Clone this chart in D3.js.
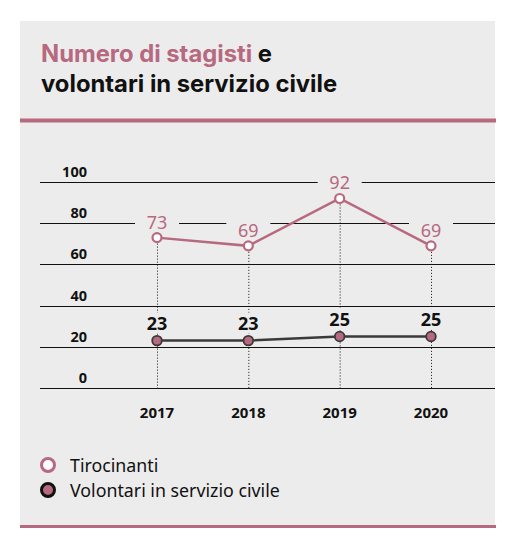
<!DOCTYPE html>
<html>
<head>
<meta charset="utf-8">
<script src="https://cdn.jsdelivr.net/npm/d3@7"></script>
<style>
  html, body { margin: 0; padding: 0; background: #fff; }
</style>
</head>
<body>
<div id="chart"></div>
<script>
// Data
const years = ["2017", "2018", "2019", "2020"];
const tirocinanti = [73, 69, 92, 69];
const volontari = [23, 23, 25, 25];
const yTicks = [0, 20, 40, 60, 80, 100];
const legendLabels = ["Tirocinanti", "Volontari in servizio civile"];

const width = 517;
const height = 549;
const pink = "#b7697f";
const panel = "#ececec";
const dark = "#3a3a3a";

const svg = d3.select("#chart").append("svg")
  .attr("width", width)
  .attr("height", height);

// Background panel
svg.append("rect")
  .attr("x", 20).attr("y", 21)
  .attr("width", 475).attr("height", 505)
  .attr("fill", panel);

// Title
const title = svg.append("text")
  .attr("x", 41)
  .style("font-family", "Inter, Roboto, sans-serif")
  .style("font-weight", 700)
  .style("font-size", "23.8px");
const line1 = title.append("tspan").attr("x", 41).attr("y", 62);
line1.append("tspan").attr("fill", pink).text("Numero di stagisti");
line1.append("tspan").attr("fill", "#111").text(" e");
title.append("tspan").attr("x", 41).attr("y", 92).attr("fill", "#111")
  .text("volontari in servizio civile");

// Rules
svg.append("rect").attr("x", 20).attr("y", 118.5).attr("width", 476).attr("height", 4).attr("fill", pink);
svg.append("rect").attr("x", 20).attr("y", 525).attr("width", 476).attr("height", 3).attr("fill", pink);

// Scales
const x = d3.scalePoint().domain(years).range([157, 431]);
const y = d3.scaleLinear().domain([0, 100]).range([388, 182]);

// Gridlines and y labels
const grid = svg.append("g");
grid.selectAll("line")
  .data(yTicks)
  .join("line")
    .attr("x1", 40).attr("x2", 495)
    .attr("y1", d => Math.round(y(d)) + 0.5)
    .attr("y2", d => Math.round(y(d)) + 0.5)
    .attr("stroke", "#111")
    .attr("stroke-width", 1);

grid.selectAll("text")
  .data(yTicks)
  .join("text")
    .attr("x", 87)
    .attr("y", d => y(d) - 5)
    .attr("text-anchor", "end")
    .style("font-family", "'Noto Sans', sans-serif")
    .style("font-weight", 700)
    .style("font-size", "14.5px")
    .attr("fill", "#111")
    .text(d => d);

// Dotted verticals
svg.append("g").selectAll("line")
  .data(years.map((yr, i) => ({ yr, v: Math.max(tirocinanti[i], volontari[i]) })))
  .join("line")
    .attr("x1", d => x(d.yr) + 0.5).attr("x2", d => x(d.yr) + 0.5)
    .attr("y1", d => y(d.v))
    .attr("y2", y(0))
    .attr("stroke", "#111")
    .attr("stroke-width", 1)
    .attr("stroke-dasharray", "1,2");

// Label backgrounds masking gridlines and dotted lines
const masks = svg.append("g");
function addMasks(values, dy) {
  masks.selectAll(null)
    .data(values.map((v, i) => ({ year: years[i], v })))
    .join("rect")
      .attr("x", d => x(d.year) - 22)
      .attr("y", d => y(d.v) - dy - 17)
      .attr("width", 44)
      .attr("height", 21)
      .attr("fill", panel);
}
addMasks(tirocinanti, 9);
addMasks(volontari, 11);

// Lines
const lineGen = d3.line().x((d, i) => x(years[i])).y(d => y(d));

svg.append("path")
  .datum(tirocinanti)
  .attr("d", lineGen)
  .attr("fill", "none")
  .attr("stroke", pink)
  .attr("stroke-width", 2.5);

svg.append("path")
  .datum(volontari)
  .attr("d", lineGen)
  .attr("fill", "none")
  .attr("stroke", dark)
  .attr("stroke-width", 2.5);

// Points
svg.append("g").selectAll("circle")
  .data(tirocinanti)
  .join("circle")
    .attr("cx", (d, i) => x(years[i]))
    .attr("cy", d => y(d))
    .attr("r", 4.5)
    .attr("fill", "#fff")
    .attr("stroke", pink)
    .attr("stroke-width", 2.2);

svg.append("g").selectAll("circle")
  .data(volontari)
  .join("circle")
    .attr("cx", (d, i) => x(years[i]))
    .attr("cy", d => y(d))
    .attr("r", 4.8)
    .attr("fill", pink)
    .attr("stroke", dark)
    .attr("stroke-width", 1.8);

// Value labels
svg.append("g").selectAll("text")
  .data(tirocinanti)
  .join("text")
    .attr("x", (d, i) => x(years[i]))
    .attr("y", d => y(d) - 9)
    .attr("text-anchor", "middle")
    .style("font-family", "'Noto Sans', sans-serif")
    .style("font-size", "18px")
    .attr("fill", pink)
    .text(d => d);

svg.append("g").selectAll("text")
  .data(volontari)
  .join("text")
    .attr("x", (d, i) => x(years[i]))
    .attr("y", d => y(d) - 11)
    .attr("text-anchor", "middle")
    .style("font-family", "'Noto Sans', sans-serif")
    .style("font-weight", 700)
    .style("font-size", "18px")
    .attr("fill", "#111")
    .text(d => d);

// Year labels
svg.append("g").selectAll("text")
  .data(years)
  .join("text")
    .attr("x", d => x(d))
    .attr("y", 418)
    .attr("text-anchor", "middle")
    .style("font-family", "'Noto Sans', sans-serif")
    .style("font-weight", 700)
    .style("font-size", "15px")
    .attr("fill", "#111")
    .text(d => d);

// Legend
const legend = svg.append("g");
const legendStyles = [
  { fill: "#fff", stroke: pink },
  { fill: pink, stroke: "#111" }
];
legend.selectAll("circle")
  .data(legendLabels)
  .join("circle")
    .attr("cx", 48)
    .attr("cy", (d, i) => 465 + i * 25)
    .attr("r", 6.5)
    .attr("fill", (d, i) => legendStyles[i].fill)
    .attr("stroke", (d, i) => legendStyles[i].stroke)
    .attr("stroke-width", 3);

legend.selectAll("text")
  .data(legendLabels)
  .join("text")
    .attr("x", 70)
    .attr("y", (d, i) => 472 + i * 25)
    .style("font-family", "'Noto Sans', sans-serif")
    .style("font-size", "17.8px")
    .attr("fill", "#111")
    .text(d => d);
</script>
</body>
</html>
